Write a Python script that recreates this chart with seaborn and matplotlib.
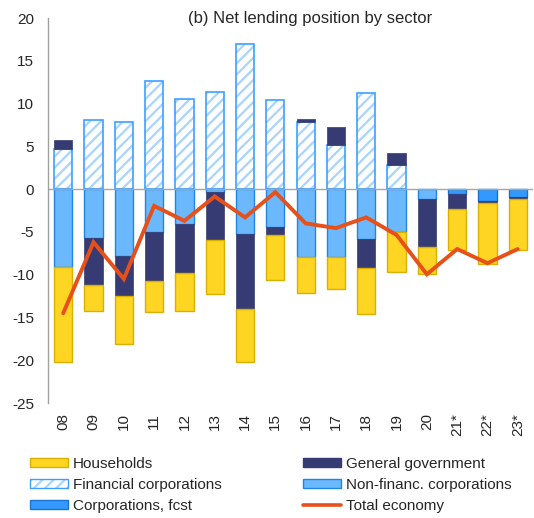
import numpy as np
import pandas as pd
import matplotlib
matplotlib.use("Agg")
import matplotlib.pyplot as plt
from matplotlib.patches import Patch
from matplotlib.lines import Line2D
import seaborn as sns

# values (% of GDP)
years = ["08", "09", "10", "11", "12", "13", "14", "15", "16", "17", "18", "19", "20", "21*", "22*", "23*"]
financial = [4.7, 8.1, 7.8, 12.6, 10.5, 11.4, 17.0, 10.4, 7.8, 5.2, 11.3, 2.8, 0, 0, 0, 0]
government_pos = [1.0, 0, 0, 0, 0, 0, 0, 0, 0.4, 2.05, 0, 1.45, 0, 0, 0, 0]
non_financial = [-9.05, -5.7, -7.8, -5.0, -4.1, -0.3, -5.2, -4.4, -7.9, -7.9, -5.8, -5.0, -1.1, 0, 0, 0]
corporations_fcst = [0, 0, 0, 0, 0, 0, 0, 0, 0, 0, 0, 0, 0, -0.55, -1.35, -0.95]
government_neg = [0, -5.5, -4.7, -5.7, -5.7, -5.6, -8.8, -0.9, 0, 0, -3.45, 0, -5.7, -1.75, -0.3, -0.2]
households = [-11.15, -3.1, -5.6, -3.7, -4.4, -6.3, -6.2, -5.3, -4.2, -3.8, -5.35, -4.7, -3.15, -4.8, -7.15, -5.95]
total_economy = [-14.5, -6.2, -10.5, -1.95, -3.7, -0.85, -3.3, -0.35, -4.0, -4.55, -3.3, -5.35, -9.95, -7.0, -8.65, -7.0]

YELLOW, YELLOW_EDGE = "#FFD523", "#D9B000"
NAVY = "#363B73"
LIGHT_BLUE, LIGHT_BLUE_EDGE = "#6CB8FC", "#1F86E6"
FCST_BLUE, FCST_EDGE = "#3399FF", "#1A73D0"
HATCH_BLUE, HATCH_EDGE = "#A8D4FF", "#3DA0FF"
ORANGE = "#E8501A"

sns.set_style("white")
plt.rcParams["font.family"] = ["Liberation Sans", "DejaVu Sans"]
plt.rcParams["hatch.linewidth"] = 1.6
plt.rcParams["axes.unicode_minus"] = False

df = pd.DataFrame({
    "year": years,
    "financial": financial,
    "gov_pos": government_pos,
    "non_fin": non_financial,
    "fcst": corporations_fcst,
    "gov_neg": government_neg,
    "households": households,
})
df["pos_base"] = 0.0
df["neg_base"] = 0.0

fig = plt.figure(figsize=(5.34, 5.18), dpi=100)
ax = fig.add_axes([0.09, 0.222, 0.908, 0.743])


def stack(column, sign, color, edge, lw=1.0, **extra):
    # draw one stacked layer, skipping empty cells so no zero-height edges appear
    base_col = "pos_base" if sign > 0 else "neg_base"
    part = df.loc[df[column] != 0]
    sns.barplot(data=part, x="year", y=column, order=years, ax=ax, width=0.6,
                errorbar=None, color=color, saturation=1,
                bottom=part[base_col].to_numpy(),
                edgecolor=edge, linewidth=lw, **extra)
    return part, base_col


# financial corporations: hatched fill, then outline on top
part, base_col = stack("financial", 1, "white", HATCH_BLUE, lw=0, hatch="///")
sns.barplot(data=part, x="year", y="financial", order=years, ax=ax, width=0.6,
            errorbar=None, color="white", facecolor="none", saturation=1,
            bottom=part[base_col].to_numpy(), edgecolor=HATCH_EDGE, linewidth=1.2)
df["pos_base"] += df["financial"]
stack("gov_pos", 1, NAVY, NAVY, lw=0.5)
df["pos_base"] += df["gov_pos"]

stack("non_fin", -1, LIGHT_BLUE, LIGHT_BLUE_EDGE, lw=1.0)
df["neg_base"] += df["non_fin"]
stack("fcst", -1, FCST_BLUE, FCST_EDGE, lw=1.0)
df["neg_base"] += df["fcst"]
stack("gov_neg", -1, NAVY, NAVY, lw=0.5)
df["neg_base"] += df["gov_neg"]
stack("households", -1, YELLOW, YELLOW_EDGE, lw=1.0)

sns.lineplot(x=np.arange(len(years)), y=total_economy, ax=ax, color=ORANGE,
             linewidth=2.8, solid_joinstyle="miter")

ax.axhline(0, color="#A6A6A6", linewidth=1.0, zorder=1.5)
ax.set_ylim(-25, 20)
ax.set_xlim(-0.5, len(years) - 0.5)
ax.set_yticks(np.arange(-25, 21, 5))
ax.set_xlabel("")
ax.set_ylabel("")
ax.set_xticks(range(len(years)))
ax.set_xticklabels(years, rotation=90, va="top")
ax.tick_params(axis="y", length=0, pad=10, labelsize=11)
ax.tick_params(axis="x", length=0, pad=7, labelsize=11)
for side in ["top", "right", "bottom"]:
    ax.spines[side].set_visible(False)
ax.spines["left"].set_color("#A0A0A0")
ax.spines["left"].set_linewidth(1.0)

ax.text(0.54, 0.998, "(b) Net lending position by sector", transform=ax.transAxes,
        ha="center", va="center", fontsize=12)

handles = [
    Patch(facecolor=YELLOW, edgecolor=YELLOW_EDGE),
    (Patch(facecolor="white", edgecolor=HATCH_BLUE, hatch="///", linewidth=0),
     Patch(facecolor="none", edgecolor=HATCH_EDGE)),
    Patch(facecolor=FCST_BLUE, edgecolor=FCST_EDGE),
    Patch(facecolor=NAVY, edgecolor=NAVY),
    Patch(facecolor=LIGHT_BLUE, edgecolor=LIGHT_BLUE_EDGE),
    Line2D([], [], color=ORANGE, linewidth=2.6),
]
labels = ["Households", "Financial corporations", "Corporations, fcst",
          "General government", "Non-financ. corporations", "Total economy"]
fig.legend(handles, labels, ncol=2, loc="center", bbox_to_anchor=(0.507, 0.064),
           frameon=False, fontsize=11, handlelength=2.5, handleheight=0.5,
           handletextpad=0.3, columnspacing=5.3, labelspacing=0.45)

fig.savefig("out.png", dpi=100)
